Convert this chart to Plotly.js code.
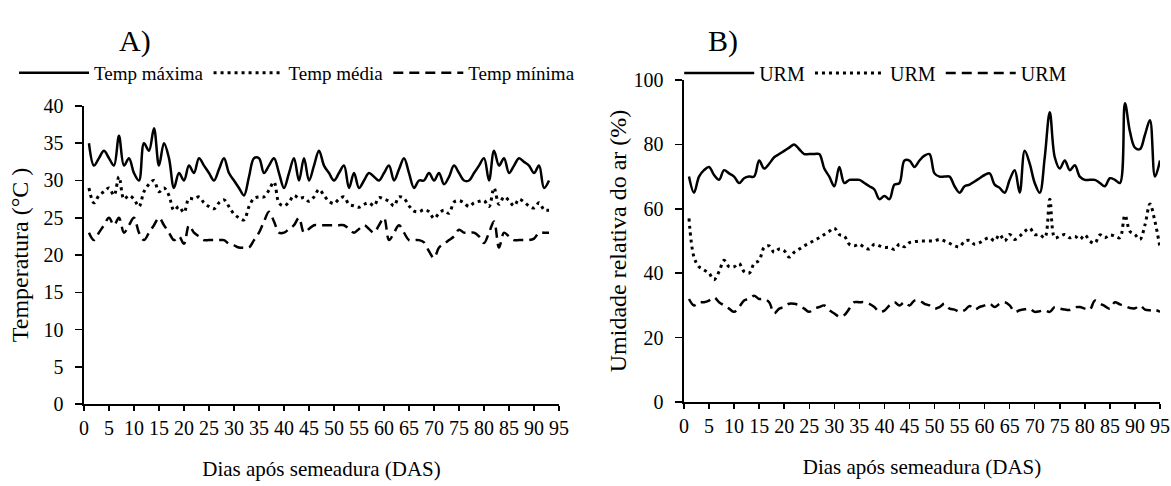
<!DOCTYPE html>
<html>
<head>
<meta charset="utf-8">
<script src="https://cdn.plot.ly/plotly-3.0.1.min.js"></script>
<style>html,body{margin:0;padding:0;background:#fff;}#chart{width:1171px;height:486px;}</style>
</head>
<body>
<div id="chart"></div>
<script>
// Panel A: temperature (°C), days after sowing 1..93
const daysA = Array.from({length: 93}, (_, i) => i + 1);
const tempMax = [35,32,33,34,33,32,36,32,33,31,30,35,34,37,32,35,33,29,31,30,
  32,31,33,32,31,30,31.5,33,31,30,29,28,30.5,33,33,31,32,33,31,29,
  31,33,30,33,30,32,34,32,31,30,31,32,29,31,29,30,31,30.5,30,31,
  32,30,31.5,33,31,29,30,30,31,30,31,29.5,30.5,32,31,30,30,31,32,33,
  30,34,32,33,31,32,33,32.5,32,31,32,29,30];
const tempMed = [29,27,28,28.5,29,28,30.5,27.5,28,27.5,26.5,28.5,29.5,30,28.5,29,28,26,26.5,25.7,
  27.6,27.5,27.8,27,26.5,26.2,27,27.4,26.5,25.5,25,24.7,26.5,27.6,27.8,27.8,28.7,29.8,27,26.6,
  27.1,28,27.6,27.7,27.2,27.8,28.8,28,27.2,26.9,27.5,27.8,26.8,26.6,26.4,26.8,27,26.6,27.7,27.5,
  27.2,26.6,27.8,27.6,26.6,25.9,25.8,26.1,25.8,24.9,25.6,26,25.6,27.1,27.3,27,26.5,27,27.2,27.3,
  26.5,29,26.8,27.8,27.3,26.6,27.5,27.1,26.6,26.3,27,26.1,26];
const tempMin = [23,22,23,24,25,24,25,23,24,25,23,22,23,24,25,24,23,22,22.5,21.5,
  24,23,22.5,22,22,22,22,22,21.5,21.3,21,21,21,22,23,24.5,25.8,24.5,23,23,
  23.5,24,25,23,23.5,24,24,24,24,24,24,24,23.5,23,23.5,24,23.5,23,24,25,
  22,23,24,23,22,22,22,21.7,20.5,19.6,21,21.5,22,22.5,23.4,23,23,23,22.5,21.6,
  23,24.5,21,23,22.5,22,22,22,22,22.2,23,23,23];

// Panel B: relative air humidity (%), days after sowing 1..95
const daysB = Array.from({length: 95}, (_, i) => i + 1);
const urmMax = [70,65,70,72,73,70.5,69,72,71,70,68,69.5,70,70,75,72.5,74,76,77,78,
  79,80,78.5,77,77,77,77,72.5,70,67,73,68,69,69,69,68,67,66,63,64,
  63,67.5,68,75,75,73,75,76.5,77,71,70,70,70,67,65,67,67.5,68.5,69.5,70.5,
  71,67.5,66.5,65,69,72,65,78,74,68,65,76,90,76,72.5,75,72,73.5,70,69,
  69,69,68,67,69.5,69,68,92.8,84,79,78.5,83,87.5,70,75];
const urmMed = [57,45,42,41,40,38,40.5,44,42,42,43,40.5,40,43,44,48,48.5,46.5,47.5,47,
  45,46.5,47.5,48.5,49.3,50.2,51,52,53,54,52,51.5,49,48.5,49,48,47.5,49,48.5,48,
  48,47.4,49,48.2,49.5,49.8,50,50,50,50,50.5,50,49.3,48.5,48.2,49.9,50.2,49,49.5,50.5,
  51,50,52,50,52,50.5,51.5,53,54,52,52,51,63,51,51.5,52,51,51.5,50.5,51.9,
  50,49.3,51.9,51,51.9,51.5,51,58,53,52,50.5,55,61.5,56,48];
const urmMin = [32,30,31,31,31.5,32.5,31,30,29,28,29.5,31.5,32,33,32,32,31,27.5,29,29.5,
  30.5,30.5,30,29,28,29,29.5,30,28.5,27.5,26.5,27,29,31,31,31,30.5,29.5,28,28.4,
  30,31,30,31,30,31.5,31.5,30.5,30,29,29.5,30.5,29,28.7,28,28.5,29.8,28.7,29.5,30,
  30.5,29.5,30.5,31,30,28,28.5,28.8,29,28,28.2,28.5,28,29.5,29,28.7,28.6,29.4,29.5,29,
  28.7,31.5,30.6,29.8,29,31,30.3,29.8,29.2,29.1,30,28.7,28.5,28.6,28];

const xTickVals = Array.from({length: 20}, (_, i) => i * 5);

const FONT = "'Liberation Serif', 'Times New Roman', serif";
const lineSolid = {color: '#000', width: 2.5, shape: 'spline'};
const lineDot = {color: '#000', width: 3, shape: 'spline', dash: '3px,4px'};
const lineDash = {color: '#000', width: 2.5, shape: 'spline', dash: '10px,6px'};

const traces = [
  {x: daysA, y: tempMax, name: 'Temp máxima', mode: 'lines', line: lineSolid, xaxis: 'x', yaxis: 'y', legend: 'legend'},
  {x: daysA, y: tempMed, name: 'Temp média', mode: 'lines', line: lineDot, xaxis: 'x', yaxis: 'y', legend: 'legend'},
  {x: daysA, y: tempMin, name: 'Temp mínima', mode: 'lines', line: lineDash, xaxis: 'x', yaxis: 'y', legend: 'legend'},
  {x: daysB, y: urmMax, name: 'URM', mode: 'lines', line: lineSolid, xaxis: 'x2', yaxis: 'y2', legend: 'legend2'},
  {x: daysB, y: urmMed, name: 'URM', mode: 'lines', line: lineDot, xaxis: 'x2', yaxis: 'y2', legend: 'legend2'},
  {x: daysB, y: urmMin, name: 'URM', mode: 'lines', line: lineDash, xaxis: 'x2', yaxis: 'y2', legend: 'legend2'}
];

function xAxis(domain, anchor) {
  return {
    domain: domain, anchor: anchor, range: [0, 95],
    tickmode: 'array', tickvals: xTickVals,
    ticks: 'outside', ticklen: 5, tickwidth: 1.5, tickcolor: '#000',
    showline: true, linecolor: '#000', linewidth: 1.5,
    showgrid: false, zeroline: false,
    tickfont: {family: FONT, size: 20, color: '#000'},
    title: {text: 'Dias após semeadura (DAS)', font: {family: FONT, size: 21, color: '#000'}, standoff: 24}
  };
}
function yAxis(domain, anchor, range, dtick, title, standoff) {
  return {
    domain: domain, anchor: anchor, range: range,
    tickmode: 'linear', tick0: 0, dtick: dtick,
    ticks: 'outside', ticklen: 7, tickwidth: 1.5, tickcolor: '#000',
    ticklabelstandoff: 8,
    showline: true, linecolor: '#000', linewidth: 1.5,
    showgrid: false, zeroline: false,
    tickfont: {family: FONT, size: 20, color: '#000'},
    title: {text: title, font: {family: FONT, size: 24, color: '#000'}, standoff: standoff}
  };
}

const layout = {
  width: 1171, height: 486,
  margin: {l: 0, r: 0, t: 0, b: 0},
  paper_bgcolor: '#fff', plot_bgcolor: '#fff',
  font: {family: FONT, size: 18, color: '#000'},
  showlegend: true,
  xaxis: xAxis([0.0717, 0.4774], 'y'),
  yaxis: yAxis([0.1687, 0.7819], 'x', [0, 40], 5, 'Temperatura (°C )', 8),
  xaxis2: xAxis([0.5841, 0.9906], 'y2'),
  yaxis2: yAxis([0.1728, 0.8354], 'x2', [0, 100], 20, 'Umidade relativa do ar (%)', 0),
  legend: {orientation: 'h', x: 0.012, y: 0.85, xanchor: 'left', yanchor: 'middle',
    font: {family: FONT, size: 19, color: '#000'}, itemwidth: 70, bgcolor: 'rgba(0,0,0,0)'},
  legend2: {orientation: 'h', x: 0.58, y: 0.85, xanchor: 'left', yanchor: 'middle',
    font: {family: FONT, size: 20, color: '#000'}, itemwidth: 70, bgcolor: 'rgba(0,0,0,0)'},
  annotations: [
    {text: 'A)', xref: 'paper', yref: 'paper', x: 0.115, y: 0.915, showarrow: false,
      font: {family: FONT, size: 30, color: '#000'}, xanchor: 'center', yanchor: 'middle'},
    {text: 'B)', xref: 'paper', yref: 'paper', x: 0.6174, y: 0.915, showarrow: false,
      font: {family: FONT, size: 30, color: '#000'}, xanchor: 'center', yanchor: 'middle'}
  ]
};

Plotly.newPlot('chart', traces, layout, {displayModeBar: false, staticPlot: true});
</script>
</body>
</html>
